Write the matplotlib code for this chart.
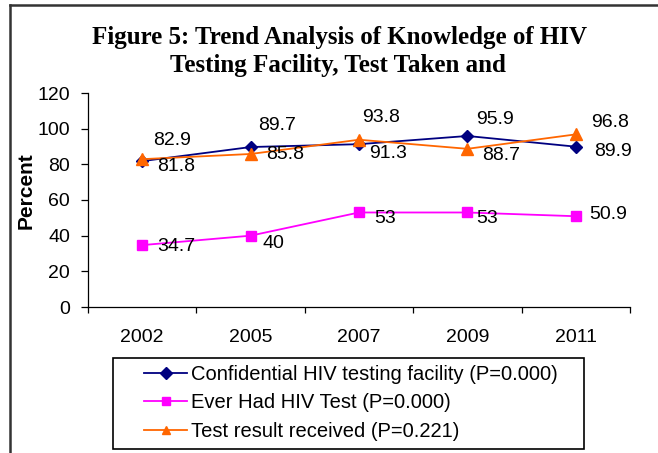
import matplotlib
matplotlib.use("Agg")
import matplotlib.pyplot as plt
from matplotlib.lines import Line2D
from matplotlib.patches import Rectangle

# chart data
years = ["2002", "2005", "2007", "2009", "2011"]
confidential = [81.8, 89.7, 91.3, 95.9, 89.9]
ever_tested = [34.7, 40, 53, 53, 50.9]
result_received = [82.9, 85.8, 93.8, 88.7, 96.8]

series_names = [
    "Confidential HIV testing facility (P=0.000)",
    "Ever Had HIV Test (P=0.000)",
    "Test result received (P=0.221)",
]
title_lines = ["Figure 5: Trend Analysis of Knowledge of HIV",
               "Testing Facility, Test Taken and"]

# label offsets in pixels (dx right, dy up) for each point, placement only
conf_offsets = [(15, -5), (8, 22), (10, -9), (9, 16), (18, -5)]
ever_offsets = [(15, -1), (12, -8), (15, -6), (9, -6), (13, 2)]
recv_offsets = [(11, 19), (16, -1), (3, 22), (15, -7), (15, 12)]

W, H = 658, 453
plt.rcParams["font.family"] = ["Liberation Sans", "DejaVu Sans"]

fig = plt.figure(figsize=(W / 100, H / 100), dpi=100)
ax = fig.add_axes([88 / W, 1 - 307 / H, 542 / W, 214 / H])

x = list(range(len(years)))
ax.plot(x, confidential, color="#000080", marker="D", markersize=6, lw=1.3,
        label=series_names[0])
ax.plot(x, ever_tested, color="#FF00FF", marker="s", markersize=7, lw=1.3,
        label=series_names[1])
ax.plot(x, result_received, color="#FF6600", marker="^", markersize=8, lw=1.3,
        label=series_names[2])

px = 72 / 100  # pixels -> points
for vals, offs in [(confidential, conf_offsets), (ever_tested, ever_offsets),
                   (result_received, recv_offsets)]:
    for i, v in enumerate(vals):
        dx, dy = offs[i]
        ax.annotate(f"{v:g}", (i, v), xytext=(dx * px, dy * px),
                    textcoords="offset points", ha="left", va="center",
                    fontsize=14, color="black")

ax.set_xlim(-0.5, 4.5)
ax.set_ylim(0, 120)
ax.set_yticks(range(0, 121, 20))
ax.set_xticks(x)
ax.set_xticklabels(years)
ax.set_xticks([i - 0.5 for i in range(6)], minor=True)
ax.tick_params(axis="x", which="major", length=0, labelsize=14, pad=16)
ax.tick_params(axis="x", which="minor", length=4, direction="out", width=0.9)
ax.tick_params(axis="y", length=5, direction="out", labelsize=14, width=0.9,
               pad=8)
for s in ["top", "right"]:
    ax.spines[s].set_visible(False)
ax.spines["left"].set_linewidth(0.9)
ax.spines["bottom"].set_linewidth(0.9)
ax.set_ylabel("Percent", fontsize=15, fontweight="bold")
ax.yaxis.set_label_coords((36 - 88) / 542, (307 - 191) / 214)

fig.text(340 / W, 1 - 44 / H, title_lines[0],
         ha="center", va="baseline", fontsize=18, fontweight="bold",
         family="Liberation Serif")
fig.text(338 / W, 1 - 72 / H, title_lines[1],
         ha="center", va="baseline", fontsize=18, fontweight="bold",
         family="Liberation Serif")

# legend frame drawn separately (wider than the entries)
fig.add_artist(Rectangle((113 / W, 1 - 448.5 / H), (584 - 113) / W,
                         (448.5 - 357.5) / H, transform=fig.transFigure,
                         fill=False, edgecolor="black", lw=1.2))
leg = fig.legend(loc="center left", bbox_to_anchor=(144 / W, 1 - 403 / H),
                 frameon=False, fontsize=14.5, handlelength=2.15,
                 handletextpad=0.2, borderpad=0, labelspacing=0.45,
                 borderaxespad=0)
for h in leg.legend_handles:
    h.set_markersize(6)

# outer border (left and top only visible)
fig.add_artist(Line2D([9.5 / W, 9.5 / W], [0, 1 - 5 / H],
                      transform=fig.transFigure, color="#333333", lw=1.8))
fig.add_artist(Line2D([9.5 / W, 1], [1 - 5 / H, 1 - 5 / H],
                      transform=fig.transFigure, color="#333333", lw=1.8))

plt.savefig("out.png", dpi=100)
